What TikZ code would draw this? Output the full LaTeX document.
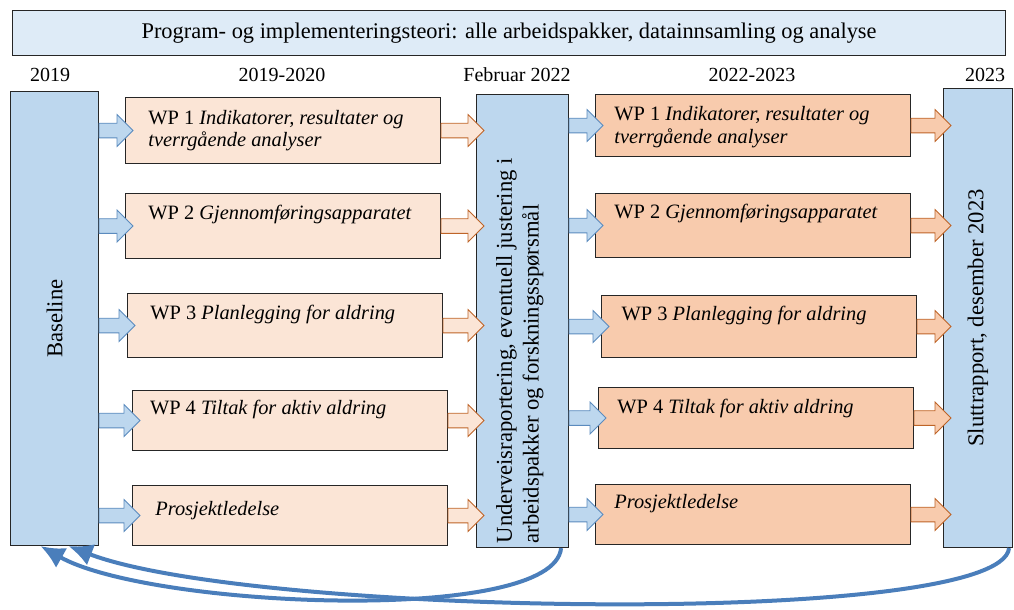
\documentclass[tikz,border=0pt]{standalone}
\usepackage{fontspec}
\setmainfont{Liberation Serif}
\usetikzlibrary{calc,arrows.meta}
\definecolor{bannerbla}{RGB}{222,235,247}
\definecolor{fasebla}{RGB}{189,215,238}
\definecolor{wplys}{RGB}{251,229,214}
\definecolor{wpmork}{RGB}{248,203,173}
\definecolor{pilbla}{RGB}{91,139,190}
\definecolor{pilbrun}{RGB}{190,100,40}
\definecolor{returbla}{RGB}{74,126,187}
\newcommand{\px}{0.75pt}
% blokkpil: stil, fra, til (vannrett)
\newcommand{\blokkpil}[3]{%
  \path[#1] let \p1=(#2), \p2=(#3) in
    (\x1,\y1+5.5pt) -- (\x2-12pt,\y1+5.5pt) -- (\x2-12pt,\y1+12pt) -- (\x2,\y1)
    -- (\x2-12pt,\y1-12pt) -- (\x2-12pt,\y1-5.5pt) -- (\x1,\y1-5.5pt) -- cycle;}
\begin{document}
\begin{tikzpicture}[x=\px, y=-\px,
  aar/.style={font=\fontsize{15}{18}\selectfont},
  boks/.style={draw=black!85, line width=0.8pt, anchor=north west, inner sep=0pt},
  fase/.style={boks, fill=fasebla},
  wpv/.style={boks, fill=wplys, minimum width=315*\px},
  wph/.style={boks, fill=wpmork, minimum width=315*\px},
  wptekst/.style={anchor=west, align=left, font=\fontsize{15.3}{17}\selectfont},
  rottekst/.style={rotate=90, align=left, font=\fontsize{17}{20}\selectfont},
  blapil/.style={fill=fasebla, draw=pilbla, line width=0.6pt},
  lyspil/.style={fill=wplys, draw=pilbrun, line width=0.6pt},
  morkpil/.style={fill=wpmork, draw=pilbrun, line width=0.6pt},
  retur/.style={draw=returbla, line width=3pt, -{Latex[length=18pt,width=17pt]}}]
\useasboundingbox (0,0) rectangle (1014,610);

% Overskrift
\node[boks, fill=bannerbla, minimum width=993*\px, minimum height=45*\px,
  font=\fontsize{16.8}{19}\selectfont] (banner) at (12,10)
  {Program- og implementeringsteori: alle arbeidspakker, datainnsamling og analyse};

% Tidslinje
\node[aar] (aar1) at (50,75) {2019};
\node[aar] (aar2) at (282,75) {2019-2020};
\node[aar] (aar3) at (517,75) {Februar 2022};
\node[aar] (aar4) at (752,75) {2022-2023};
\node[aar] (aar5) at (985,75) {2023};

% Faser
\node[fase, minimum width=88*\px, minimum height=454*\px,
  label={[rottekst, anchor=center]center:Baseline}] (base) at (10,91) {};
\node[fase, minimum width=92*\px, minimum height=453*\px,
  label={[rottekst, anchor=west, yshift=2pt]south:Underveisraportering, eventuell justering i\\arbeidspakker og forskningsspørsmål}] (mid) at (476,94) {};
\node[fase, minimum width=69*\px, minimum height=459*\px,
  label={[rottekst, anchor=center]center:Sluttrapport, desember 2023}] (final) at (943,88) {};

% Arbeidspakker 2019-2020
\node[wpv, minimum height=66*\px,
  label={[wptekst, xshift=14pt]west:WP 1 \textit{Indikatorer, resultater og}\\\textit{tverrgående analyser}}] (l1) at (125,97) {};
\node[wpv, minimum height=65*\px,
  label={[wptekst, xshift=14pt, yshift=9pt]west:WP 2 \textit{Gjennomføringsapparatet}}] (l2) at (125,193) {};
\node[wpv, minimum height=64*\px,
  label={[wptekst, xshift=14pt, yshift=8pt]west:WP 3 \textit{Planlegging for aldring}}] (l3) at (127,293) {};
\node[wpv, minimum height=60*\px,
  label={[wptekst, xshift=10pt, yshift=8pt]west:WP 4 \textit{Tiltak for aktiv aldring}}] (l4) at (132,390) {};
\node[wpv, minimum height=60*\px,
  label={[wptekst, xshift=14pt, yshift=4pt]west:\textit{Prosjektledelse}}] (l5) at (132,485) {};

% Arbeidspakker 2022-2023
\node[wph, minimum height=62*\px,
  label={[wptekst, xshift=11pt, yshift=-1pt]west:WP 1 \textit{Indikatorer, resultater og}\\\textit{tverrgående analyser}}] (r1) at (595,94) {};
\node[wph, minimum height=64*\px,
  label={[wptekst, xshift=11pt, yshift=9pt]west:WP 2 \textit{Gjennomføringsapparatet}}] (r2) at (595,193) {};
\node[wph, minimum height=62*\px,
  label={[wptekst, xshift=12pt, yshift=8pt]west:WP 3 \textit{Planlegging for aldring}}] (r3) at (601,295) {};
\node[wph, minimum height=61*\px,
  label={[wptekst, xshift=11pt, yshift=7pt]west:WP 4 \textit{Tiltak for aktiv aldring}}] (r4) at (598,387) {};
\node[wph, minimum height=60*\px,
  label={[wptekst, xshift=11pt, yshift=8pt]west:\textit{Prosjektledelse}}] (r5) at (595,484) {};

% Blokkpiler
\foreach \i in {1,...,5} {
  \blokkpil{blapil}{base.east |- l\i.west}{[xshift=6pt]l\i.west}
  \blokkpil{lyspil}{l\i.east}{[xshift=6pt]mid.west |- l\i.east}
  \blokkpil{blapil}{mid.east |- r\i.west}{[xshift=6pt]r\i.west}
  \blokkpil{morkpil}{r\i.east}{[xshift=6pt]final.west |- r\i.east}
}

% Tilbake til baseline
\draw[retur] ([xshift=-8*\px]mid.south east) .. controls +(-7,77) and +(110,62) .. ([xshift=-14*\px]base.south);
\draw[retur] ([xshift=-4*\px]final.south east) .. controls +(-8,80) and +(182,70) .. ([xshift=14*\px]base.south);
\end{tikzpicture}
\end{document}
